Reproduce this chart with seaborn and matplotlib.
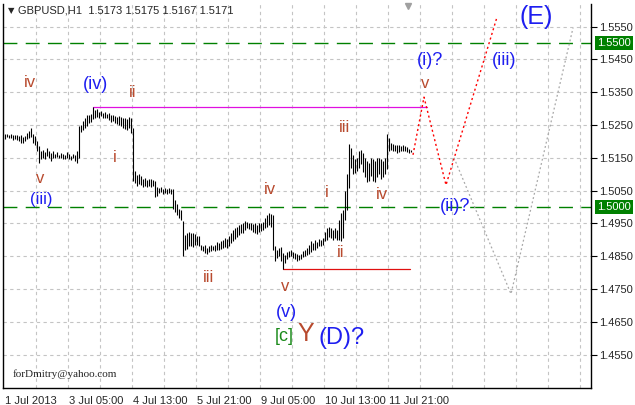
import numpy as np
import pandas as pd
import matplotlib
matplotlib.use("Agg")
import matplotlib.pyplot as plt
import matplotlib.transforms as mtransforms
import seaborn as sns

#### DATA: GBPUSD H1 bars (high / low) ####
bar_high = [1.5222, 1.5223, 1.5221, 1.5222, 1.5220, 1.5219, 1.5221, 1.5216, 1.5218, 1.5212,
            1.5217, 1.5226, 1.5231, 1.5241, 1.5222, 1.5215, 1.5200, 1.5185, 1.5170, 1.5175,
            1.5168, 1.5180, 1.5172, 1.5165, 1.5170, 1.5163, 1.5167, 1.5160, 1.5165, 1.5162,
            1.5158, 1.5167, 1.5162, 1.5157, 1.5163, 1.5160, 1.5170, 1.5247, 1.5250, 1.5262,
            1.5270, 1.5280, 1.5282, 1.5285, 1.5305, 1.5296, 1.5298, 1.5290, 1.5292, 1.5288,
            1.5290, 1.5285, 1.5287, 1.5280, 1.5282, 1.5278, 1.5275, 1.5277, 1.5274, 1.5270,
            1.5272, 1.5268, 1.5275, 1.5270, 1.5240, 1.5110, 1.5098, 1.5100, 1.5095, 1.5085,
            1.5088, 1.5083, 1.5086, 1.5084, 1.5082, 1.5080, 1.5060, 1.5058, 1.5062, 1.5055,
            1.5058, 1.5056, 1.5057, 1.5055, 1.5055, 1.5020, 1.5008, 1.4995, 1.4992, 1.4958,
            1.4915, 1.4920, 1.4925, 1.4922, 1.4920, 1.4918, 1.4910, 1.4912, 1.4885, 1.4880,
            1.4883, 1.4876, 1.4880, 1.4884, 1.4881, 1.4885, 1.4893, 1.4890, 1.4895, 1.4900,
            1.4905, 1.4903, 1.4912, 1.4922, 1.4930, 1.4935, 1.4940, 1.4945, 1.4948, 1.4952,
            1.4957, 1.4955, 1.4950, 1.4952, 1.4948, 1.4950, 1.4945, 1.4950, 1.4952, 1.4955,
            1.4965, 1.4975, 1.4982, 1.4980, 1.4975, 1.4880, 1.4870, 1.4875, 1.4878, 1.4860,
            1.4855, 1.4862, 1.4865, 1.4868, 1.4862, 1.4860, 1.4858, 1.4855, 1.4858, 1.4865,
            1.4868, 1.4875, 1.4885, 1.4895, 1.4890, 1.4898, 1.4892, 1.4903, 1.4900, 1.4905,
            1.4925, 1.4935, 1.4940, 1.4935, 1.4930, 1.4935, 1.4930, 1.4960, 1.4982, 1.4990,
            1.5048, 1.5100, 1.5193, 1.5180, 1.5160, 1.5145, 1.5150, 1.5170, 1.5175, 1.5165,
            1.5150, 1.5140, 1.5135, 1.5150, 1.5145, 1.5140, 1.5148, 1.5150, 1.5145, 1.5140,
            1.5148, 1.5223, 1.5210, 1.5195, 1.5192, 1.5190, 1.5188, 1.5190, 1.5185, 1.5190,
            1.5187, 1.5182, 1.5178, 1.5175]
bar_low = [1.5207, 1.5212, 1.5210, 1.5209, 1.5205, 1.5207, 1.5203, 1.5200, 1.5194, 1.5196,
           1.5200, 1.5206, 1.5210, 1.5212, 1.5196, 1.5190, 1.5170, 1.5135, 1.5145, 1.5150,
           1.5145, 1.5155, 1.5148, 1.5140, 1.5150, 1.5148, 1.5152, 1.5150, 1.5148, 1.5147,
           1.5145, 1.5150, 1.5145, 1.5143, 1.5148, 1.5140, 1.5133, 1.5150, 1.5230, 1.5235,
           1.5240, 1.5248, 1.5255, 1.5260, 1.5268, 1.5270, 1.5275, 1.5272, 1.5276, 1.5270,
           1.5272, 1.5270, 1.5266, 1.5260, 1.5262, 1.5255, 1.5252, 1.5250, 1.5248, 1.5242,
           1.5238, 1.5235, 1.5240, 1.5226, 1.5080, 1.5072, 1.5065, 1.5070, 1.5068, 1.5062,
           1.5065, 1.5060, 1.5064, 1.5062, 1.5065, 1.5030, 1.5035, 1.5042, 1.5045, 1.5040,
           1.5042, 1.5040, 1.5043, 1.5040, 1.4995, 1.4985, 1.4975, 1.4965, 1.4960, 1.4852,
           1.4870, 1.4872, 1.4882, 1.4880, 1.4878, 1.4885, 1.4885, 1.4880, 1.4870, 1.4865,
           1.4860, 1.4858, 1.4862, 1.4865, 1.4868, 1.4866, 1.4870, 1.4868, 1.4872, 1.4874,
           1.4878, 1.4876, 1.4880, 1.4890, 1.4895, 1.4902, 1.4908, 1.4915, 1.4920, 1.4922,
           1.4930, 1.4935, 1.4932, 1.4930, 1.4925, 1.4920, 1.4918, 1.4925, 1.4928, 1.4930,
           1.4935, 1.4940, 1.4945, 1.4940, 1.4870, 1.4835, 1.4845, 1.4850, 1.4835, 1.4811,
           1.4830, 1.4840, 1.4848, 1.4850, 1.4845, 1.4842, 1.4835, 1.4838, 1.4840, 1.4848,
           1.4850, 1.4855, 1.4858, 1.4862, 1.4870, 1.4868, 1.4875, 1.4880, 1.4880, 1.4885,
           1.4895, 1.4900, 1.4908, 1.4905, 1.4900, 1.4905, 1.4898, 1.4900, 1.4895, 1.4905,
           1.4960, 1.4990, 1.5058, 1.5120, 1.5100, 1.5105, 1.5110, 1.5120, 1.5130, 1.5108,
           1.5090, 1.5075, 1.5080, 1.5095, 1.5080, 1.5075, 1.5090, 1.5100, 1.5085, 1.5090,
           1.5100, 1.5115, 1.5170, 1.5175, 1.5170, 1.5172, 1.5165, 1.5168, 1.5170, 1.5172,
           1.5170, 1.5168, 1.5165, 1.5167]

# time axis labels (every 32 bars)
time_labels = ['1 Jul 2013', '3 Jul 05:00', '4 Jul 13:00', '5 Jul 21:00',
               '9 Jul 05:00', '10 Jul 13:00', '11 Jul 21:00']
price_ticks = [1.4550, 1.4650, 1.4750, 1.4850, 1.4950, 1.5050,
               1.5150, 1.5250, 1.5350, 1.5450, 1.5550]
levels = [1.5500, 1.5000]

# wave projections (bar index, price)
red_path_x = [204, 209.5, 220.5, 246]
red_path_y = [1.5159, 1.5335, 1.5067, 1.5579]
gray_path_x = [224.5, 253, 284]
gray_path_y = [1.5150, 1.4735, 1.5546]

# horizontal reference segments
top_line = 1.5305     # (iv) high
bottom_line = 1.4811  # (v) low

# wave labels: text, bar index, price, colour key, size
wave_labels = [
    ('iv', 12.5, 1.5381, 'b', 12), ('v', 17.5, 1.5088, 'b', 12), ('(iii)', 18, 1.5024, 'u', 12),
    ('(iv)', 45, 1.5375, 'u', 13), ('ii', 64, 1.5348, 'b', 12), ('i', 55, 1.5152, 'b', 12),
    ('iii', 101.5, 1.4784, 'b', 12), ('iv', 132.5, 1.5052, 'b', 12), ('v', 140, 1.4756, 'b', 12),
    ('(v)', 140.5, 1.4677, 'u', 13), ('i', 161, 1.5043, 'b', 12), ('ii', 168, 1.4860, 'b', 12),
    ('iii', 170, 1.5241, 'b', 12), ('iv', 188.5, 1.5037, 'b', 12), ('(i)?', 212.5, 1.5448, 'u', 13),
    ('v', 210, 1.5378, 'b', 12), ('(ii)?', 225, 1.5003, 'u', 13), ('(iii)', 249.5, 1.5448, 'u', 13),
    ('(E)', 265.5, 1.5579, 'u', 18), ('[c]', 139.5, 1.4604, 'g', 13), ('Y', 150.5, 1.4612, 'b', 18),
    ('(D)?', 168.5, 1.4601, 'u', 17),
]
label_colors = {'b': '#B84A2E', 'u': '#1E1EF0', 'g': '#1A8A1A'}

#### PLOT ####
sns.set_style("white")
plt.rcParams['font.family'] = ['Liberation Sans', 'DejaVu Sans']

fig = plt.figure(figsize=(6.35, 4.05), dpi=100)
ax = fig.add_axes([3 / 635, 17 / 405, 588 / 635, 384 / 405])

ax.set_xlim(-1, 293)
ax.set_ylim(1.4448, 1.5619)

# grid
for p in price_ticks:
    ax.axhline(p, color='#c4c4c4', lw=0.8, ls=(0, (3, 3)), zorder=0)
for gx in np.arange(15.5, 293, 16):
    ax.axvline(gx, color='#c4c4c4', lw=0.8, ls=(0, (3, 3)), zorder=0)

# price bars
bars = pd.DataFrame({'bar': np.arange(len(bar_high)), 'high': bar_high, 'low': bar_low})
ax.vlines(bars['bar'], bars['low'], bars['high'], color='black', lw=0.8, zorder=3)

# levels
for lv in levels:
    ax.axhline(lv, color='#008000', lw=1.0, ls=(0, (10, 6)), zorder=1)
ax.plot([44, 211], [top_line, top_line], color='#E010E0', lw=0.9, zorder=2)
ax.plot([139, 202.5], [bottom_line, bottom_line], color='#E01010', lw=0.9, zorder=2)

# projections
proj = pd.DataFrame({'x': red_path_x, 'y': red_path_y})
sns.lineplot(data=proj, x='x', y='y', ax=ax, sort=False, color='#FF0000',
             lw=1.0, linestyle=(0, (1.5, 2)), zorder=2)
proj2 = pd.DataFrame({'x': gray_path_x, 'y': gray_path_y})
sns.lineplot(data=proj2, x='x', y='y', ax=ax, sort=False, color='#A8A8A8',
             lw=0.9, linestyle=(0, (1.5, 2)), zorder=2)

# wave labels
for txt, bx, py, ck, fs in wave_labels:
    ax.text(bx, py, txt, color=label_colors[ck], fontsize=fs, ha='center', va='center',
            fontfamily='Liberation Sans', zorder=5)

# axes styling
ax.set_xlabel('')
ax.set_ylabel('')
ax.yaxis.tick_right()
ax.set_yticks(price_ticks)
ax.set_yticklabels(['%.4f' % p for p in price_ticks], fontsize=8)
xticks = [-1 + 32 * k for k in range(len(time_labels))]
ax.set_xticks(xticks)
ax.set_xticklabels(time_labels, fontsize=8, ha='left')
ax.tick_params(axis='both', direction='out', length=4, width=0.8, color='black', pad=2)
for lab in ax.get_xticklabels():
    lab.set_transform(lab.get_transform() + mtransforms.ScaledTranslation(2 / 100, 0, fig.dpi_scale_trans))
ax.spines['top'].set_visible(False)
for s in ['left', 'right', 'bottom']:
    ax.spines[s].set_color('black')
    ax.spines[s].set_linewidth(1.0)

# level boxes on price scale
trans = mtransforms.blended_transform_factory(ax.transAxes, ax.transData)
for lv in levels:
    ax.text(1.011, lv, '%.4f' % lv, transform=trans, color='white', fontsize=8,
            va='center', ha='left',
            bbox=dict(facecolor='#008000', edgecolor='none', pad=1.6), clip_on=False)

# header and footer text
ax.text(0.008, 0.983, '\u25bc', transform=ax.transAxes, fontsize=6, fontfamily='DejaVu Sans',
        va='center', ha='left')
ax.text(0.026, 0.983, 'GBPUSD,H1  1.5173 1.5175 1.5167 1.5171', transform=ax.transAxes,
        fontsize=8, va='center', ha='left')
ax.text(0.017, 0.036, 'forDmitry@yahoo.com', transform=ax.transAxes, fontsize=8,
        fontfamily='Liberation Serif', va='center', ha='left')
ax.plot([201.5], [1.5614], marker='v', color='#a0a0a0', ms=5, clip_on=False)

fig.savefig('out.png', dpi=100)
